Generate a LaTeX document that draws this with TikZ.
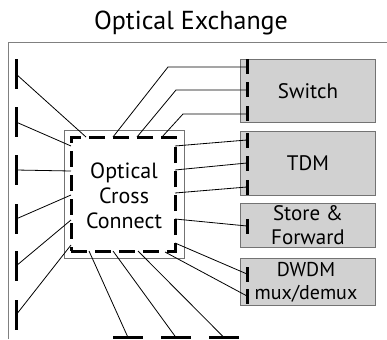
\documentclass[tikz,border=0pt]{standalone}
\usepackage{fontspec}
\setmainfont{PT Sans}
\begin{document}
\begin{tikzpicture}[x=1pt,y=-1pt,
  frame/.style={draw=black!50, line width=0.9pt},
  unit/.style={draw=black!55, fill=black!18, line width=0.9pt, minimum width=135pt, inner sep=0pt, font=\fontsize{21}{24}\selectfont, align=center, anchor=north west},
  vport/.style={fill=black, inner sep=0pt, minimum width=3pt, minimum height=15pt},
  lport/.style={fill=black, inner sep=0pt, minimum width=3pt, minimum height=30pt},
  hport/.style={fill=black, inner sep=0pt, minimum width=30pt, minimum height=3pt},
  wire/.style={line width=0.8pt},
]
\useasboundingbox (0,0) rectangle (387,339);
% title and frame
\node[font=\fontsize{26}{30}\selectfont] (title) at (191,23) {Optical Exchange};
\coordinate (fa) at (8,339);
\coordinate (fb) at (8,42);
\coordinate (fc) at (387,42);
\draw[frame] (fa) -- (fb) -- (fc);
% cross connect
\node[draw=black!55, line width=0.9pt, minimum width=120pt, minimum height=128pt, inner sep=0pt, anchor=north west] (occbox) at (64,130) {};
\node[draw, line width=3pt, dash pattern=on 16pt off 8pt, minimum width=104pt, minimum height=114pt, inner sep=0pt] (occ) at (123,194) {};
\node[align=center, font=\fontsize{22}{25}\selectfont, inner sep=0pt] (occtext) at (124,196) {Optical\\Cross\\Connect};
% units
\node[unit, minimum height=63pt] (sw) at (240,59) {Switch};
\node[unit, minimum height=64pt] (tdm) at (240,131) {TDM};
\node[unit, minimum height=44pt] (sf) at (240,203) {Store \&\\Forward};
\node[unit, minimum height=47pt] (dw) at (240,258) {};
\node[align=center, font=\fontsize{20}{23}\selectfont, inner sep=0pt] (dwtext) at (306,282) {DWDM\\mux/demux};
% ports
\node[vport] (sw1) at (247,67) {};
\node[vport] (sw2) at (247,90) {};
\node[vport] (sw3) at (247,114) {};
\node[vport] (td1) at (247,140) {};
\node[vport] (td2) at (247,163) {};
\node[vport] (td3) at (247,187) {};
\node[vport] (sf1) at (247,226) {};
\node[vport] (dw1) at (247,274) {};
\node[vport] (dw2) at (247,296) {};
\node[lport] (l1) at (16,74) {};
\node[lport] (l2) at (16,122) {};
\node[lport] (l3) at (16,170) {};
\node[lport] (l4) at (16,219) {};
\node[lport] (l5) at (16,266) {};
\node[lport] (l6) at (16,315) {};
\node[hport] (b1) at (128,337.5) {};
\node[hport] (b2) at (176,337.5) {};
\node[hport] (b3) at (224,337.5) {};
% attachment points on the cross connect
\coordinate (o1) at (86,137);
\coordinate (o2) at (71,146);
\coordinate (o3) at (71,171);
\coordinate (o4) at (71,195);
\coordinate (o5) at (71,220);
\coordinate (o6) at (71,245);
\coordinate (t1) at (113,137);
\coordinate (t2) at (137,137);
\coordinate (t3) at (162,137);
\coordinate (k1) at (168,67);
\coordinate (k2) at (176,90);
\coordinate (k3) at (183,114);
\coordinate (r1) at (175,146);
\coordinate (r2) at (175,170);
\coordinate (r3) at (175,193);
\coordinate (r4) at (175,219);
\coordinate (r5) at (175,243);
\coordinate (r6) at (165,252);
\coordinate (u1) at (89,251);
\coordinate (u2) at (113,251);
\coordinate (u3) at (138,251);
% wires
\draw[wire] (l1.center) -- (o1);
\draw[wire] (l2.center) -- (o2);
\draw[wire] (l3.center) -- (o3);
\draw[wire] (l4.center) -- (o4);
\draw[wire] (l5.center) -- (o5);
\draw[wire] (l6.center) -- (o6);
\draw[wire] (t1) -- (k1) -- (sw1.center);
\draw[wire] (t2) -- (k2) -- (sw2.center);
\draw[wire] (t3) -- (k3) -- (sw3.center);
\draw[wire] (r1) -- (td1.center);
\draw[wire] (r2) -- (td2.center);
\draw[wire] (r3) -- (td3.center);
\draw[wire] (r4) -- (sf1.center);
\draw[wire] (r5) -- (dw1.center);
\draw[wire] (r6) -- (dw2.center);
\draw[wire] (u1) -- (b1.center);
\draw[wire] (u2) -- (b2.center);
\draw[wire] (u3) -- (b3.center);
\end{tikzpicture}
\end{document}
